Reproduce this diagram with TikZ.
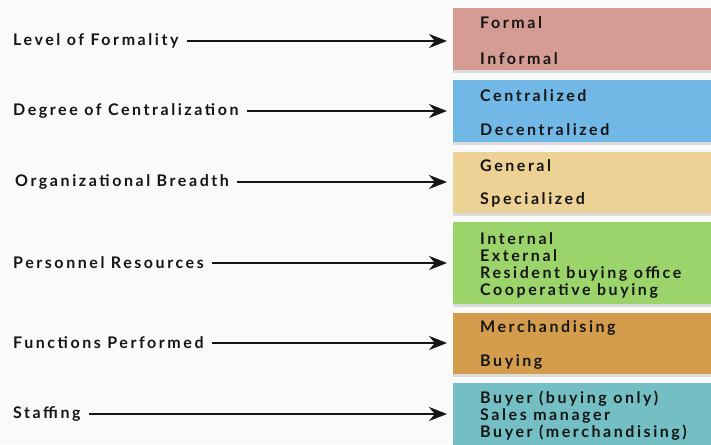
\documentclass[tikz,border=0pt]{standalone}
\usepackage{fontspec}
\setmainfont{Lato}[LetterSpace=16,BoldFont={Lato Bold}]
\usetikzlibrary{shadows,arrows.meta}
\definecolor{cA}{HTML}{D49C92}
\definecolor{cB}{HTML}{72B8E6}
\definecolor{cC}{HTML}{EDD195}
\definecolor{cD}{HTML}{9CD46C}
\definecolor{cE}{HTML}{D49D4E}
\definecolor{cF}{HTML}{74BFC4}
\definecolor{bg}{HTML}{FAFAFA}
\definecolor{ink}{HTML}{151515}
\tikzset{
  catbox/.style={rectangle, anchor=north west, minimum width=270pt, inner sep=0pt,
    drop shadow={opacity=0.25, shadow xshift=0pt, shadow yshift=-3pt}},
  lbl/.style={anchor=west, inner sep=0pt, font=\bfseries\fontsize{16}{17}\selectfont, text=ink},
  itm/.style={anchor=west, inner sep=0pt, align=left, font=\bfseries\fontsize{16}{17}\selectfont, text=ink},
  conn/.style={line width=2.4pt, draw=ink, -{Stealth[length=18pt,width=14pt]}, shorten >=6pt, shorten <=8pt}
}
\begin{document}
\begin{tikzpicture}[x=1pt,y=1pt]
\useasboundingbox (0,0) rectangle (711,-444);
\fill[bg] (0,0) rectangle (711,-444);
% boxes
\node[catbox, fill=cA, minimum height=62pt] (b1) at (453,-8) {};
\node[catbox, fill=cB, minimum height=62pt] (b2) at (453,-80) {};
\node[catbox, fill=cC, minimum height=61pt] (b3) at (453,-152) {};
\node[catbox, fill=cD, minimum height=82pt] (b4) at (453,-222) {};
\node[catbox, fill=cE, minimum height=61pt] (b5) at (453,-313) {};
\node[catbox, fill=cF, minimum height=80pt] (b6) at (453,-383) {};
% box texts
\node[itm] (t1) at (480,-41) {Formal\\[19pt]Informal};
\node[itm] (t2) at (480,-113) {Centralized\\[17pt]Decentralized};
\node[itm] (t3) at (480,-183.5) {General\\[16pt]Specialized};
\node[itm] (t4) at (480,-265.5) {Internal\\External\\Resident buying office\\Cooperative buying};
\node[itm] (t5) at (480,-345) {Merchandising\\[17pt]Buying};
\node[itm] (t6) at (480,-416) {Buyer (buying only)\\Sales manager\\Buyer (merchandising)};
% labels
\node[lbl] (l1) at (13,-41) {Level of Formality};
\node[lbl] (l2) at (13,-111) {Degree of Centralization};
\node[lbl] (l3) at (15,-182) {Organizational Breadth};
\node[lbl] (l4) at (13,-263) {Personnel Resources};
\node[lbl] (l5) at (13,-343) {Functions Performed};
\node[lbl] (l6) at (13,-414) {Staffing};
% connectors
\draw[conn] (l1.east) -- (l1.east -| b1.west);
\draw[conn] (l2.east) -- (l2.east -| b2.west);
\draw[conn] (l3.east) -- (l3.east -| b3.west);
\draw[conn] (l4.east) -- (l4.east -| b4.west);
\draw[conn] (l5.east) -- (l5.east -| b5.west);
\draw[conn] (l6.east) -- (l6.east -| b6.west);
\end{tikzpicture}
\end{document}
